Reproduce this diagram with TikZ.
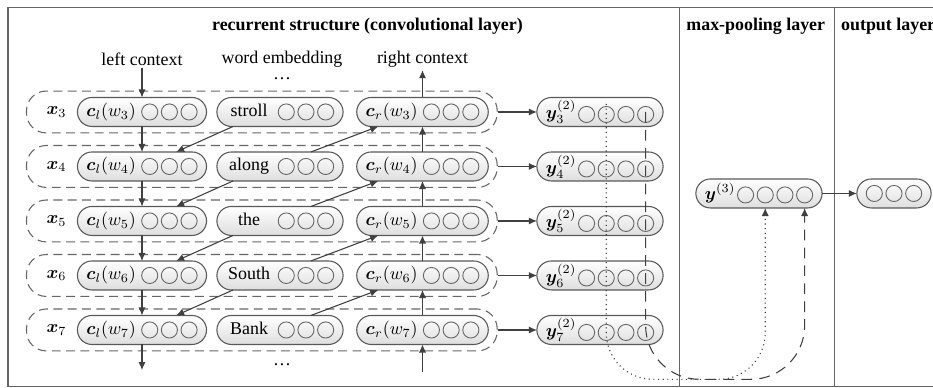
\documentclass[tikz,border=0pt]{standalone}
\usepackage{fontspec}
\setmainfont{Liberation Serif}
\usepackage{bm}
\usetikzlibrary{arrows.meta,fit}

\newcommand{\units}[1]{\tikz[baseline=-2.5pt]\foreach \k in {1,...,#1} \draw[black!60,line width=0.5pt] (\k*11pt,0) circle (4.5pt);}

\begin{document}
\begin{tikzpicture}[
  box/.style={draw=black!65,line width=0.6pt,rounded corners=8.1pt,minimum height=16.2pt,inner xsep=5pt,inner ysep=0pt,outer sep=0pt,top color=white,bottom color=black!13},
  grp/.style={draw=black!60,dash pattern=on 5pt off 3pt,line width=0.6pt,rounded corners=11pt,inner xsep=5pt,inner ysep=3.6pt},
  arr/.style={black!75,line width=0.6pt,-{Latex[length=4.5pt,width=4pt]}},
  frame/.style={black!60,line width=0.6pt}
]
\useasboundingbox (0,0) rectangle (18.32,7.618);

% frame and titles
\draw[frame] (18.6,7.471) -- (0.157,7.471) -- (0.157,0.026) -- (18.6,0.026);
\draw[frame] (13.338,0.026) -- (13.338,7.471);
\draw[frame] (16.381,0.026) -- (16.381,7.471);
\node (t1) at (7.216,7.094) {\textbf{recurrent structure (convolutional layer)}};
\node (t2) at (14.84,7.094) {\textbf{max-pooling layer}};
\node[anchor=west,inner sep=0pt] (t3) at (16.51,7.094) {\textbf{output layer}};

% rows
\foreach \i/\w [count=\r from 0] in {3/stroll,4/along,5/the,6/South,7/Bank}{
  \pgfmathsetmacro{\yy}{5.419-1.0701*\r}
  \node[inner xsep=6pt,inner ysep=2pt] (x\i) at (1.109,\yy) {$\bm{x}_\i$};
  \node[box] (cl\i) at (2.788,\yy) {$\bm{c}_l(w_\i)$\hspace{3pt}\units{3}};
  \node[box] (e\i) at (5.498,\yy) {\makebox[26pt]{\w}\hspace{3pt}\units{3}};
  \node[box] (cr\i) at (8.296,\yy) {$\bm{c}_r(w_\i)$\hspace{3pt}\units{3}};
  \node[grp,fit=(x\i)(cr\i)] (g\i) {};
  \node[box] (y\i) at (11.781,\yy) {$\bm{y}_\i^{(2)}$\hspace{1pt}\units{4}};
  \draw[arr] (g\i.east) -- (y\i.west);
}

\foreach \i in {3,...,6}{
  \pgfmathtruncatemacro{\j}{\i+1}
  \draw[arr] (cl\i.south) -- (cl\j.north);
  \draw[arr] (cr\j.north) -- (cr\i.south);
  \draw[arr] ([xshift=9pt]e\i.south west) -- ([xshift=-17pt]cl\j.north east);
  \draw[arr] ([xshift=-18pt]e\j.north east) -- ([xshift=12pt]cr\i.south west);
}

% context labels
\node[inner sep=1.5pt] (lc) at (2.788,6.46) {left context};
\node[inner sep=1.5pt] (we) at (5.537,6.46) {word embedding};
\node[inner sep=1.5pt] (rc) at (8.296,6.46) {right context};
\node[inner sep=0.5pt] (dt) at (5.537,6.07) {\ldots};
\node[inner sep=0.5pt] (db) at (5.537,0.45) {\ldots};
\coordinate (lb) at (2.788,0.35);
\coordinate (rb) at (8.296,0.31);
\draw[arr] (lc) -- (cl3.north);
\draw[arr] (cr3.north) -- (rc);
\draw[arr] (cl7.south) -- (lb);
\draw[arr] (rb) -- (cr7.south);

% pooling and output
\node[box] (ymax) at (14.903,3.819) {$\bm{y}^{(3)}$\hspace{1pt}\units{4}};
\node[box] (out) at (17.554,3.819) {\units{3}};
\draw[arr] (ymax) -- (out);

\coordinate (bot) at (0,0.17);
\coordinate (p3) at ([xshift=-31.75pt,yshift=4.5pt]y3.east);
\coordinate (q3) at ([xshift=-9.75pt]y3.east);
\coordinate (pm) at ([xshift=-31.75pt]ymax.south east);
\coordinate (qm) at ([xshift=-9.75pt]ymax.south east);
\draw[arr,dotted,rounded corners=26pt] (p3) -- (p3 |- bot) -- (pm |- bot) -- (pm);
\draw[arr,dash pattern=on 6pt off 4pt,rounded corners=30pt] (q3) -- (q3 |- bot) -- (qm |- bot) -- (qm);
\end{tikzpicture}
\end{document}
